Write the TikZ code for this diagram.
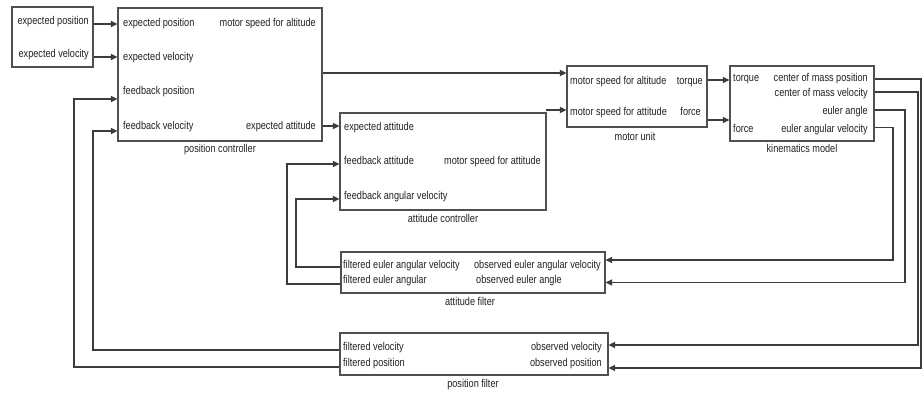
\documentclass[tikz,border=0pt]{standalone}
\usepackage{fontspec}
\setmainfont{Liberation Sans}[FakeStretch=0.81]
\usetikzlibrary{arrows.meta}
\definecolor{linec}{HTML}{3C3C3C}
\definecolor{boxc}{HTML}{505050}
\definecolor{txtc}{HTML}{222222}
\begin{document}
\begin{tikzpicture}[x=1pt,y=-1pt,
  box/.style={draw=boxc,line width=1.1pt,rectangle,inner sep=0pt,fill=white},
  lt/.style={inner sep=0pt,anchor=west,text=txtc,font=\fontsize{11.3}{13}\selectfont,text height=8pt,text depth=2.2pt},
  rt/.style={lt,anchor=east},
  ct/.style={lt,anchor=center},
  arr/.style={draw=linec,line width=1.25pt,-{Triangle[length=6.5pt,width=6pt]}},
  ln/.style={draw=linec,line width=1.25pt}]
\useasboundingbox (0,0) rectangle (922,394);
\fill[white] (0,0) rectangle (922,394);

% boxes
\node[box,minimum width=81pt,minimum height=60pt] (inbox) at (52.5,37) {};
\node[box,minimum width=204pt,minimum height=133pt] (pc) at (220,74.5) {};
\node[box,minimum width=206pt,minimum height=97pt] (ac) at (443,161.5) {};
\node[box,minimum width=140pt,minimum height=61pt] (mu) at (637,96.5) {};
\node[box,minimum width=144pt,minimum height=75pt] (km) at (802,103.5) {};
\node[box,minimum width=264pt,minimum height=41pt] (af) at (473,272.5) {};
\node[box,minimum width=268pt,minimum height=42pt] (pf) at (474,354) {};

% input box texts
\node[rt] (t1) at (89,22) {expected position};
\node[rt] (t2) at (89,55) {expected velocity};

% position controller
\node[lt] (pc1) at (123,24) {expected position};
\node[lt] (pc2) at (123,58) {expected velocity};
\node[lt] (pc3) at (123,92) {feedback position};
\node[lt] (pc4) at (123,127) {feedback velocity};
\node[rt] (pc5) at (316,24) {motor speed for altitude};
\node[rt] (pc6) at (316,127) {expected attitude};
\node[ct] (pcl) at (220,150) {position controller};

% attitude controller
\node[lt] (ac1) at (344,128) {expected attitude};
\node[lt] (ac2) at (344,162) {feedback attitude};
\node[lt] (ac3) at (344,197) {feedback angular velocity};
\node[rt] (ac4) at (541,162) {motor speed for attitude};
\node[ct] (acl) at (443,220) {attitude controller};

% motor unit
\node[lt] (mu1) at (570,82) {motor speed for altitude};
\node[lt] (mu2) at (570,113) {motor speed for attitude};
\node[rt] (mu3) at (703,82) {torque};
\node[rt] (mu4) at (701,113) {force};
\node[ct] (mul) at (635,138) {motor unit};

% kinematics model
\node[lt] (km1) at (733,79) {torque};
\node[lt] (km2) at (733,130) {force};
\node[rt] (km3) at (868,79) {center of mass position};
\node[rt] (km4) at (868,94) {center of mass velocity};
\node[rt] (km5) at (868,112) {euler angle};
\node[rt] (km6) at (868,130) {euler angular velocity};
\node[ct] (kml) at (802,150) {kinematics model};

% attitude filter
\node[lt] (af1) at (343,266) {filtered euler angular velocity};
\node[lt] (af2) at (343,281) {filtered euler angular};
\node[rt] (af3) at (601,266) {observed euler angular velocity};
\node[lt] (af4) at (476,281) {observed euler angle};
\node[ct] (afl) at (470,303) {attitude filter};

% position filter
\node[lt] (pf1) at (343,348) {filtered velocity};
\node[lt] (pf2) at (343,364) {filtered position};
\node[rt] (pf3) at (602,348) {observed velocity};
\node[rt] (pf4) at (602,364) {observed position};
\node[ct] (pfl) at (473,385) {position filter};

% port coordinates
\coordinate (y24) at (0,24);
\coordinate (y57) at (0,57);
\coordinate (y73) at (0,73);
\coordinate (y126) at (0,126);
\coordinate (y110) at (0,110);
\coordinate (y80) at (0,80);
\coordinate (y120) at (0,120);
\coordinate (y79) at (0,79);
\coordinate (y92) at (0,92);
\coordinate (y127) at (0,127.5);
\coordinate (y368) at (0,368);
\coordinate (y345) at (0,345);
\coordinate (y282) at (0,282.5);
\coordinate (y260) at (0,260);
\coordinate (y267) at (0,267);
\coordinate (y199) at (0,199);
\coordinate (y284) at (0,284);
\coordinate (y164) at (0,164);
\coordinate (y350) at (0,350);
\coordinate (y367) at (0,367);
\coordinate (y99) at (0,99);
\coordinate (y131) at (0,131);
\coordinate (xr1) at (921,0);
\coordinate (xr2) at (918,0);
\coordinate (xr3) at (905,0);
\coordinate (xr4) at (893,0);
\coordinate (xl1) at (296,0);
\coordinate (xl2) at (287,0);
\coordinate (xl3) at (93,0);
\coordinate (xl4) at (74,0);
\coordinate (acx) at (546,0);

% forward connectors
\draw[arr] (inbox.east |- y24) -- (pc.west |- y24);
\draw[arr] (inbox.east |- y57) -- (pc.west |- y57);
\draw[arr] (pc.east |- y73) -- (mu.west |- y73);
\draw[arr] (pc.east |- y126) -- (ac.west |- y126);
\draw[arr] (acx |- y110) -- (mu.west |- y110);
\draw[arr] (mu.east |- y80) -- (km.west |- y80);
\draw[arr] (mu.east |- y120) -- (km.west |- y120);

% feedback to filters
\draw[arr] (km.east |- y79) -- (xr1 |- y79) -- (xr1 |- y368) -- (pf.east |- y368);
\draw[arr] (km.east |- y92) -- (xr2 |- y92) -- (xr2 |- y345) -- (pf.east |- y345);
\draw[arr] (km.east |- y110) -- (xr3 |- y110) -- (xr3 |- y282) -- (af.east |- y282);
\draw[arr] (km.east |- y127) -- (xr4 |- y127) -- (xr4 |- y260) -- (af.east |- y260);

% filters to controllers
\draw[arr] (af.west |- y267) -- (xl1 |- y267) -- (xl1 |- y199) -- (ac.west |- y199);
\draw[arr] (af.west |- y284) -- (xl2 |- y284) -- (xl2 |- y164) -- (ac.west |- y164);
\draw[arr] (pf.west |- y350) -- (xl3 |- y350) -- (xl3 |- y131) -- (pc.west |- y131);
\draw[arr] (pf.west |- y367) -- (xl4 |- y367) -- (xl4 |- y99) -- (pc.west |- y99);
\end{tikzpicture}
\end{document}
